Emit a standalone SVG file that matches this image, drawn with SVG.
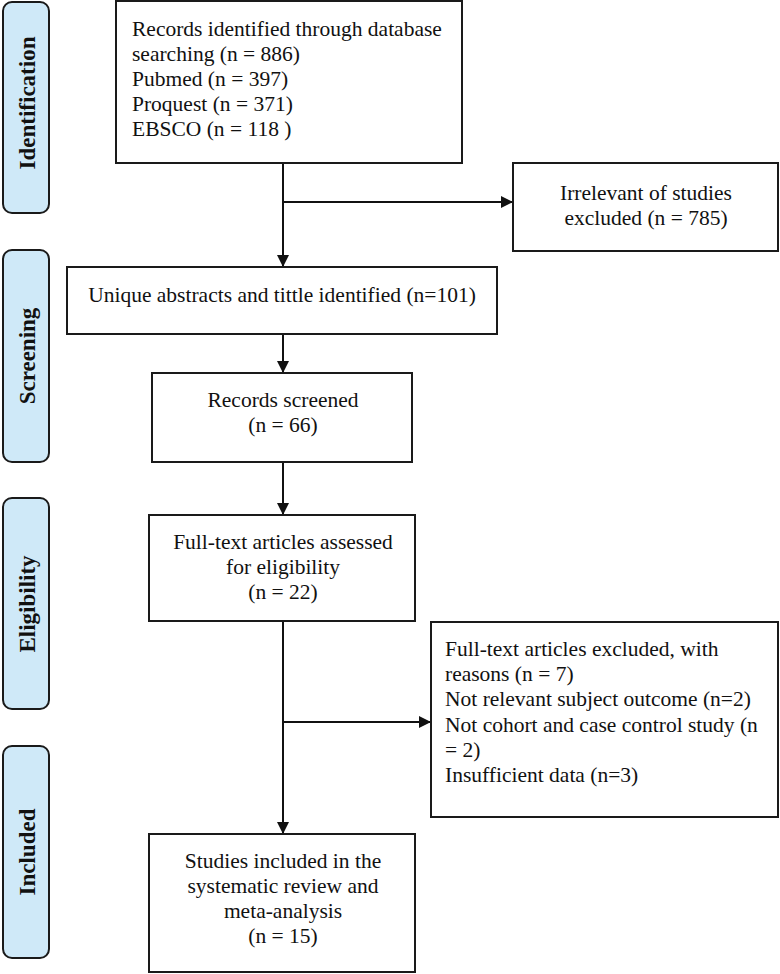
<svg xmlns="http://www.w3.org/2000/svg" width="780" height="974" viewBox="0 0 780 974">
<style>
.box{fill:#fff;stroke:#1a1a1a;stroke-width:2}
.pill{fill:#cfe9f8;stroke:#1a1a1a;stroke-width:2}
.t{font-family:"Liberation Serif","Times New Roman",serif;font-size:21.5px;fill:#111}
.c{text-anchor:middle}
.ph{font-family:"Liberation Serif","Times New Roman",serif;font-size:23px;font-weight:bold;fill:#111;text-anchor:middle}
.ln{fill:none;stroke:#111;stroke-width:2}
</style>
<defs>
<marker id="ah" viewBox="0 0 12 12" refX="12" refY="6" markerWidth="12" markerHeight="12" markerUnits="userSpaceOnUse" orient="auto">
<path d="M0,0 L12,6 L0,12 Z" fill="#111"/>
</marker>
</defs>
<rect width="780" height="974" fill="#fff"/>

<g id="phase-identification">
<rect class="pill" x="3" y="2" width="46" height="211" rx="9"/>
<text class="ph" transform="translate(35,103) rotate(-90)">Identification</text>
</g>
<g id="phase-screening">
<rect class="pill" x="3" y="250" width="46" height="212" rx="9"/>
<text class="ph" transform="translate(35,356) rotate(-90)">Screening</text>
</g>
<g id="phase-eligibility">
<rect class="pill" x="3" y="498" width="46" height="211" rx="9"/>
<text class="ph" transform="translate(35,604) rotate(-90)">Eligibility</text>
</g>
<g id="phase-included">
<rect class="pill" x="3" y="746" width="46" height="212" rx="9"/>
<text class="ph" transform="translate(35,852) rotate(-90)">Included</text>
</g>

<g id="connectors">
<path class="ln" d="M283,163 V267" marker-end="url(#ah)"/>
<path class="ln" d="M283,202 H513" marker-end="url(#ah)"/>
<path class="ln" d="M283,334 V373" marker-end="url(#ah)"/>
<path class="ln" d="M283,462 V515" marker-end="url(#ah)"/>
<path class="ln" d="M283,621 V834" marker-end="url(#ah)"/>
<path class="ln" d="M283,722 H431" marker-end="url(#ah)"/>
</g>

<g id="records-identified">
<rect class="box" x="116" y="1" width="346" height="162"/>
<text class="t" x="132" y="36">Records identified through database</text>
<text class="t" x="132" y="61">searching (n = 886)</text>
<text class="t" x="132" y="86">Pubmed (n = 397)</text>
<text class="t" x="132" y="111">Proquest (n = 371)</text>
<text class="t" x="132" y="136">EBSCO (n = 118 )</text>
</g>
<g id="irrelevant-excluded">
<rect class="box" x="513" y="163" width="265" height="88"/>
<text class="t c" x="646" y="200">Irrelevant of studies</text>
<text class="t c" x="646" y="225">excluded (n = 785)</text>
</g>
<g id="unique-abstracts">
<rect class="box" x="67" y="267" width="430" height="67"/>
<text class="t c" x="282" y="302">Unique abstracts and tittle identified (n=101)</text>
</g>
<g id="records-screened">
<rect class="box" x="152" y="373" width="260" height="89"/>
<text class="t c" x="283" y="407">Records screened</text>
<text class="t c" x="283" y="432">(n = 66)</text>
</g>
<g id="fulltext-assessed">
<rect class="box" x="149" y="515" width="266" height="106"/>
<text class="t c" x="283" y="549">Full-text articles assessed</text>
<text class="t c" x="283" y="574">for eligibility</text>
<text class="t c" x="283" y="599">(n = 22)</text>
</g>
<g id="fulltext-excluded">
<rect class="box" x="431" y="622" width="347" height="195"/>
<text class="t" x="445" y="656">Full-text articles excluded, with</text>
<text class="t" x="445" y="681">reasons (n = 7)</text>
<text class="t" x="445" y="706">Not relevant subject outcome (n=2)</text>
<text class="t" x="445" y="732">Not cohort and case control study (n</text>
<text class="t" x="445" y="757">= 2)</text>
<text class="t" x="445" y="782">Insufficient data (n=3)</text>
</g>
<g id="studies-included">
<rect class="box" x="149" y="834" width="266" height="138"/>
<text class="t c" x="283" y="868">Studies included in the</text>
<text class="t c" x="283" y="893">systematic review and</text>
<text class="t c" x="283" y="918">meta-analysis</text>
<text class="t c" x="283" y="943">(n = 15)</text>
</g>
</svg>
